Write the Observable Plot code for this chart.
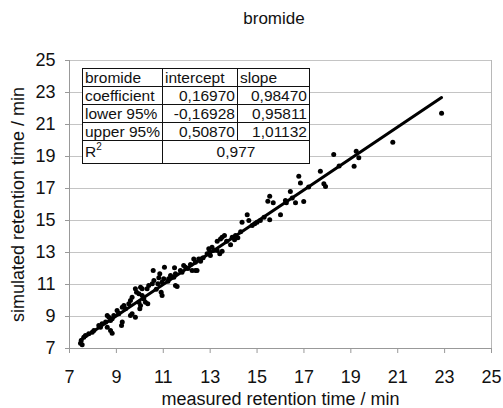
<!DOCTYPE html>
<html><head><meta charset="utf-8">
<script src="https://cdn.jsdelivr.net/npm/d3@7"></script>
<script src="https://cdn.jsdelivr.net/npm/@observablehq/plot@0.6"></script>
<style>
body{margin:0;background:#fff;font-family:"Liberation Sans",Arial,sans-serif;}
#wrap{position:relative;width:503px;height:408px;overflow:hidden;}
#title{position:absolute;left:0;top:9px;width:548px;text-align:center;font-size:17px;color:#111;}
#tbl{position:absolute;left:82px;top:68px;border-collapse:collapse;background:#fff;font-size:15.5px;color:#111;}
#tbl td{border:1.5px solid #111;padding:0 2px;height:17px;line-height:17px;white-space:nowrap;}
#tbl td.num{text-align:right;}
#tbl tr.r2 td{height:22px;line-height:22px;}
</style>
</head><body>
<div id="wrap"><div id="title"></div></div>
<script>
// ---- data ----
const chartTitle = "bromide";
const xLabel = "measured retention time / min";
const yLabel = "simulated retention time / min";
const xTicks = [7, 9, 11, 13, 15, 17, 19, 21, 23, 25];
const yTicks = [7, 9, 11, 13, 15, 17, 19, 21, 23, 25];

const measured = [
  22.87, 20.79, 18.27, 19.23, 19.34, 19.14, 17.70, 16.78, 16.85, 17.85,
  17.92, 16.42, 15.54, 15.46, 15.69, 16.21, 16.25, 16.64, 16.99, 16.00,
  15.54, 15.14, 14.58, 14.65, 14.79, 15.00, 14.36, 14.18, 14.04, 13.94,
  14.08, 13.87, 13.61, 13.51, 13.44, 13.30, 13.08, 12.94, 12.98, 13.15,
  13.30, 12.87, 13.01, 13.41, 13.51, 12.70, 12.51, 12.59, 12.30, 12.37,
  12.23, 12.37, 12.44, 12.16, 11.87, 11.95, 11.73, 11.80, 11.48, 11.52,
  11.45, 11.31, 11.23, 11.05, 10.85, 10.81, 11.02, 10.95, 10.77, 10.60,
  10.53, 10.38, 10.31, 10.57, 11.52, 11.59, 10.91, 10.95, 10.03, 10.10,
  9.81, 9.86, 9.96, 10.10, 10.17, 10.24, 10.34, 9.96, 10.03, 10.00,
  9.67, 9.60, 9.53, 9.67, 9.60, 9.81, 9.32, 9.25, 9.39, 9.25,
  9.22, 9.03, 9.10, 8.89, 8.82, 8.75, 8.61, 8.68, 8.54, 8.61,
  8.75, 8.82, 8.39, 8.25, 8.32, 8.04, 7.97, 7.82, 7.61, 7.50,
  7.47, 7.54, 7.68, 14.30, 15.30, 11.20, 12.60, 9.10, 10.70, 13.70,
  17.20, 18.50, 16.50, 12.05, 14.90
];
const simulated = [
  21.71, 19.89, 19.13, 19.33, 18.92, 18.39, 18.08, 17.77, 17.35, 17.29,
  17.13, 16.81, 16.52, 16.21, 16.11, 16.25, 16.11, 16.11, 16.19, 15.36,
  15.04, 15.00, 15.36, 15.00, 14.69, 14.89, 14.89, 13.92, 13.79, 13.96,
  14.06, 13.48, 14.06, 13.96, 13.85, 13.71, 13.33, 13.23, 13.02, 13.12,
  13.12, 12.92, 12.81, 12.92, 13.08, 12.67, 12.60, 12.46, 12.60, 12.39,
  11.88, 11.88, 11.88, 12.25, 12.19, 12.08, 11.88, 11.77, 12.04, 11.67,
  11.46, 11.56, 11.36, 12.08, 11.67, 11.42, 11.36, 11.15, 11.04, 11.25,
  11.04, 10.94, 10.73, 11.88, 10.94, 10.88, 10.52, 10.31, 10.83, 10.73,
  10.73, 10.52, 10.42, 10.31, 10.10, 9.89, 9.79, 9.89, 9.69, 9.48,
  10.21, 10.00, 9.79, 9.17, 9.06, 8.96, 9.69, 9.58, 9.48, 8.65,
  8.44, 9.38, 9.17, 9.06, 8.86, 8.75, 9.06, 8.96, 8.65, 8.33,
  8.13, 7.96, 8.54, 8.44, 8.33, 8.13, 8.02, 7.92, 7.71, 7.50,
  7.33, 7.23, 7.81, 14.30, 15.20, 11.20, 12.60, 9.20, 10.70, 13.70,
  17.10, 18.40, 16.40, 12.00, 14.80
];

const statLabels = ["coefficient", "lower 95%", "upper 95%"];
const interceptVals = [0.16970, -0.16928, 0.50870];
const slopeVals = [0.98470, 0.95811, 1.01132];
const r2Value = 0.977;

// ---- build ----
const pts = measured.map((x, i) => ({x, y: simulated[i]}));
const b0 = interceptVals[0], b1 = slopeVals[0];
const xr = d3.extent(measured);
const fitLine = xr.map(x => ({x, y: b0 + b1 * x}));

const fmt = (v, d) => v.toFixed(d).replace(".", ",");

const chart = Plot.plot({
  width: 503, height: 408,
  marginLeft: 69, marginRight: 12, marginTop: 60, marginBottom: 60,
  style: {fontFamily: "'Liberation Sans', Arial, sans-serif", fontSize: "18px", color: "#111", background: "#fff"},
  x: {domain: [xTicks[0], xTicks[xTicks.length - 1]]},
  y: {domain: [yTicks[0], yTicks[yTicks.length - 1]]},
  marks: [
    Plot.gridY(yTicks.slice(1), {stroke: "#c4c4c4", strokeOpacity: 1}),
    Plot.ruleX([xTicks[xTicks.length - 1]], {stroke: "#b8b8b8"}),
    Plot.ruleY([yTicks[0]], {stroke: "#999"}),
    Plot.ruleX([xTicks[0]], {stroke: "#999"}),
    Plot.axisX(xTicks, {tickSize: 5, tickPadding: 17, stroke: "#999", label: null, fontSize: 18}),
    Plot.axisY(yTicks, {tickSize: 4, tickPadding: 10, stroke: "#999", label: null, fontSize: 18}),
    Plot.text([xLabel], {text: d => d, frameAnchor: "bottom", dy: 51, lineAnchor: "middle", textAnchor: "middle", fontSize: 18, fill: "#111"}),
    Plot.text([yLabel], {text: d => d, frameAnchor: "left", rotate: -90, dx: -51, lineAnchor: "middle", textAnchor: "middle", fontSize: 18, fill: "#111"}),
    Plot.line(fitLine, {x: "x", y: "y", stroke: "#000", strokeWidth: 3}),
    Plot.dot(pts, {x: "x", y: "y", r: 2.5, fill: "#000", stroke: "none"})
  ]
});

const wrap = document.getElementById("wrap");
wrap.prepend(chart);
document.getElementById("title").textContent = chartTitle;

// regression table
const tbl = document.createElement("table");
tbl.id = "tbl";
let html = `<tr><td style="width:70px">${chartTitle}</td><td style="width:70px">intercept</td><td style="width:67px">slope</td></tr>`;
statLabels.forEach((l, i) => {
  html += `<tr><td>${l}</td><td class="num">${fmt(interceptVals[i], 5)}</td><td class="num">${fmt(slopeVals[i], 5)}</td></tr>`;
});
html += `<tr class="r2"><td>R<sup style="font-size:10px;vertical-align:7px;line-height:0">2</sup></td><td colspan="2" style="text-align:center">${fmt(r2Value, 3)}</td></tr>`;
tbl.innerHTML = html;
wrap.appendChild(tbl);
</script>
</body></html>
